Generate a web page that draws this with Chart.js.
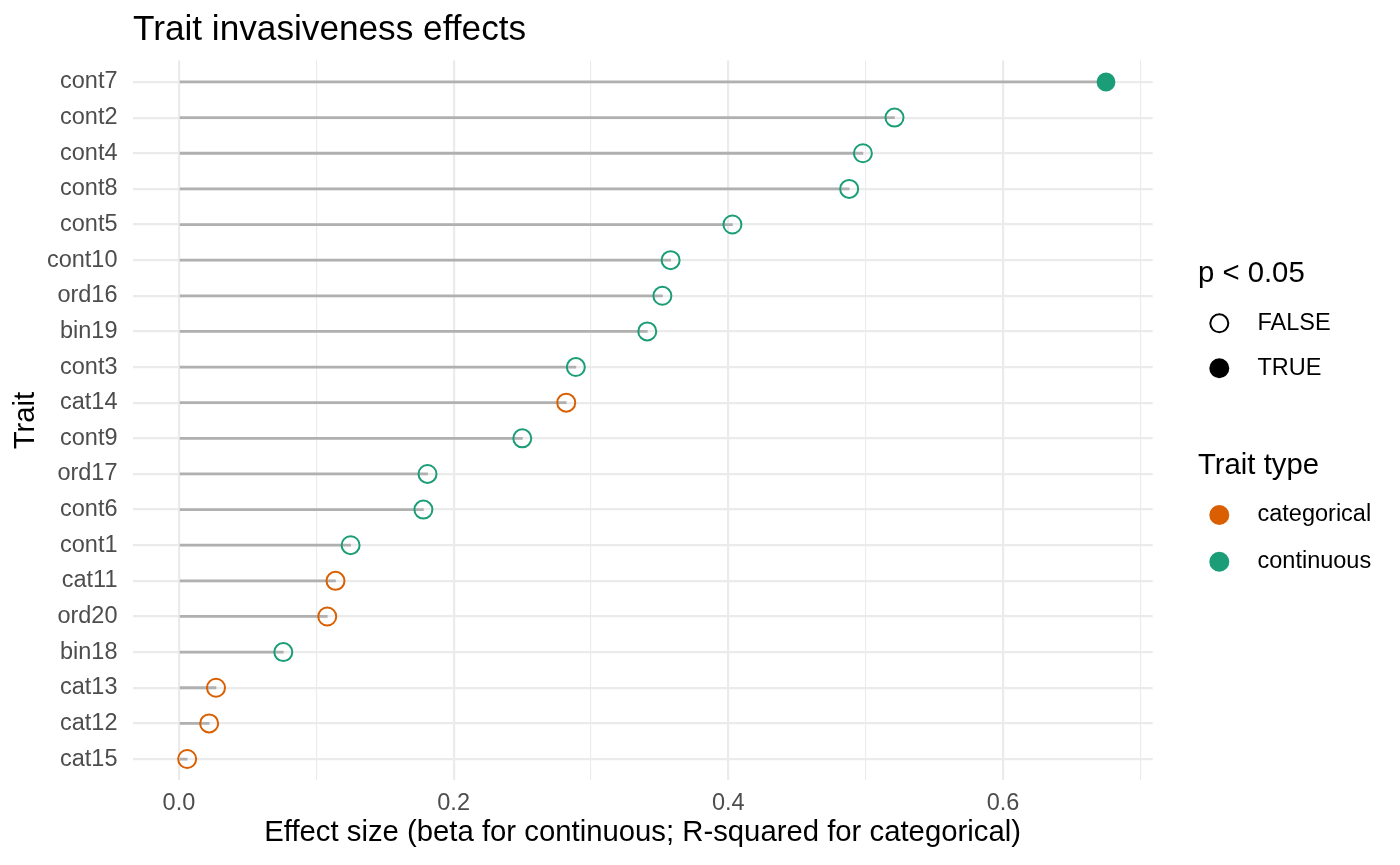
<!DOCTYPE html>
<html>
<head>
<meta charset="utf-8">
<title>Trait invasiveness effects</title>
<script src="https://cdn.jsdelivr.net/npm/chart.js@4/dist/chart.umd.min.js"></script>
<style>
  html, body { margin: 0; padding: 0; background: #ffffff; }
  #wrap { position: relative; width: 1400px; height: 865px; }
</style>
</head>
<body>
<div id="wrap"><canvas id="lollipop" width="1400" height="865"></canvas></div>
<script>
// traits, top row first
const traits = ["cont7", "cont2", "cont4", "cont8", "cont5", "cont10", "ord16", "bin19", "cont3", "cat14",
  "cont9", "ord17", "cont6", "cont1", "cat11", "ord20", "bin18", "cat13", "cat12", "cat15"];
const effects = [0.675, 0.521, 0.498, 0.488, 0.403, 0.358, 0.352, 0.341, 0.289, 0.282,
  0.250, 0.181, 0.178, 0.125, 0.114, 0.108, 0.076, 0.027, 0.022, 0.006];
const traitTypes = ["continuous", "continuous", "continuous", "continuous", "continuous", "continuous",
  "continuous", "continuous", "continuous", "categorical", "continuous", "continuous", "continuous",
  "continuous", "categorical", "categorical", "continuous", "categorical", "categorical", "categorical"];
const significant = [true, false, false, false, false, false, false, false, false, false,
  false, false, false, false, false, false, false, false, false, false];

const majorTicks = [0, 0.2, 0.4, 0.6];
const majorTickLabels = ["0.0", "0.2", "0.4", "0.6"];
const minorTicks = [0.1, 0.3, 0.5, 0.7];

const typeColors = { categorical: "#D95F02", continuous: "#1B9E77" };
const FONT = "'Liberation Sans', Arial, sans-serif";

// title + legend drawn after the chart
const extrasPlugin = {
  id: "extras",
  afterDraw(chart) {
    const ctx = chart.ctx;
    ctx.save();
    ctx.fillStyle = "#000000";
    ctx.textBaseline = "alphabetic";
    ctx.textAlign = "left";
    ctx.font = "35.2px " + FONT;
    ctx.fillText("Trait invasiveness effects", 133, 40);

    ctx.font = "29.3px " + FONT;
    ctx.fillText("p < 0.05", 1198, 281.5);
    ctx.fillText("Trait type", 1198, 474);

    const keyX = 1219.3, labelX = 1257.5, r = 9;
    const keys = [
      { y: 323.3, label: "FALSE", fill: null, stroke: "#000000" },
      { y: 368.3, label: "TRUE", fill: "#000000", stroke: "#000000" },
      { y: 515, label: "categorical", fill: typeColors.categorical, stroke: typeColors.categorical },
      { y: 561.7, label: "continuous", fill: typeColors.continuous, stroke: typeColors.continuous }
    ];
    ctx.font = "23.5px " + FONT;
    ctx.textBaseline = "middle";
    keys.forEach(k => {
      ctx.beginPath();
      ctx.arc(keyX, k.y, r, 0, Math.PI * 2);
      if (k.fill) { ctx.fillStyle = k.fill; ctx.fill(); }
      ctx.lineWidth = 2;
      ctx.strokeStyle = k.stroke;
      ctx.stroke();
      ctx.fillStyle = "#000000";
      ctx.fillText(k.label, labelX, k.y);
    });
    ctx.restore();
  }
};

const segData = effects.map((v, i) => ({ x: [0, v], y: i }));
const pointData = effects.map((v, i) => ({ x: v, y: i }));
const pointColors = traitTypes.map(t => typeColors[t]);
const pointFills = traitTypes.map((t, i) => significant[i] ? typeColors[t] : "rgba(0,0,0,0)");
const pointSizes = significant.map(s => s ? 8.4 : 9);

new Chart(document.getElementById("lollipop"), {
  type: "bar",
  data: {
    datasets: [
      {
        type: "scatter",
        label: "effect",
        data: pointData,
        order: 0,
        pointRadius: pointSizes,
        pointHoverRadius: pointSizes,
        pointBorderWidth: 2,
        pointBorderColor: pointColors,
        pointBackgroundColor: pointFills
      },
      {
        type: "bar",
        label: "segment",
        data: segData,
        order: 1,
        backgroundColor: "#b0b0b0",
        borderWidth: 0,
        barThickness: 2.1
      }
    ]
  },
  options: {
    indexAxis: "y",
    responsive: false,
    animation: false,
    layout: { padding: { top: 60.6, right: 247.3, left: 0, bottom: 0 } },
    plugins: { legend: { display: false }, tooltip: { enabled: false } },
    scales: {
      x: {
        type: "linear",
        position: "bottom",
        offset: false,
        min: -0.0338,
        max: 0.709,
        afterBuildTicks: s => {
          s.ticks = majorTicks.concat(minorTicks).sort((a, b) => a - b).map(v => ({ value: v }));
        },
        afterFit: s => { s.height = 84.6; },
        border: { display: false },
        grid: {
          offset: false,
          color: "#ebebeb",
          drawTicks: false,
          lineWidth: c => (c.tick && majorTicks.includes(c.tick.value)) ? 2.2 : 1.1
        },
        ticks: {
          autoSkip: false,
          maxRotation: 0,
          padding: 9,
          color: "#4d4d4d",
          font: { family: FONT, size: 23.5 },
          callback: v => {
            const k = majorTicks.indexOf(v);
            return k >= 0 ? majorTickLabels[k] : "";
          }
        },
        title: {
          display: true,
          text: "Effect size (beta for continuous; R-squared for categorical)",
          color: "#000000",
          font: { family: FONT, size: 29.3 },
          padding: { top: 0, bottom: 14.4 }
        }
      },
      y: {
        type: "linear",
        position: "left",
        offset: false,
        min: -0.6,
        max: traits.length - 0.4,
        reverse: true,
        afterBuildTicks: s => { s.ticks = traits.map((_, i) => ({ value: i })); },
        afterFit: s => { s.width = 132.5; },
        border: { display: false },
        grid: { offset: false, color: "#ebebeb", lineWidth: 2.2, drawTicks: false },
        ticks: {
          autoSkip: false,
          padding: 15,
          color: "#4d4d4d",
          font: { family: FONT, size: 23.5 },
          callback: v => traits[v]
        },
        title: {
          display: true,
          text: "Trait",
          color: "#000000",
          font: { family: FONT, size: 29.3 },
          padding: { top: 8.4, bottom: 0 }
        }
      }
    }
  },
  plugins: [extrasPlugin]
});
</script>
</body>
</html>
